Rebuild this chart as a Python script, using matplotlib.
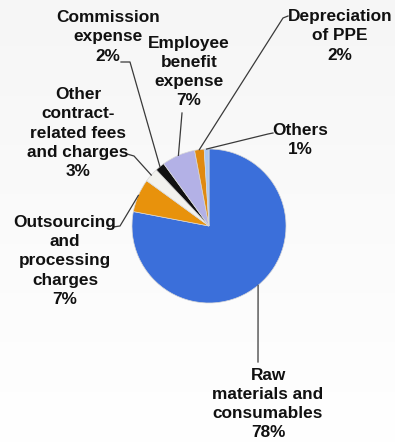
import numpy as np
import matplotlib
matplotlib.use("Agg")
import matplotlib.pyplot as plt

# Cost breakdown shares (clockwise from 12 o'clock)
categories = [
    "Raw\nmaterials and\nconsumables",
    "Outsourcing\nand\nprocessing\ncharges",
    "Other\ncontract-\nrelated fees\nand charges",
    "Commission\nexpense",
    "Employee\nbenefit\nexpense",
    "Depreciation\nof PPE",
    "Others",
]
shares = [78, 7, 3, 2, 7, 2, 1]
colors = ["#3B6FDA", "#E8920C", "#F2F2EE", "#111111", "#B3B1E6", "#E08A10", "#A9C6F2"]

W, H = 395, 442
fig = plt.figure(figsize=(W / 100, H / 100), dpi=100)
ax = fig.add_axes([0, 0, 1, 1])

# soft background wash
grad = np.linspace(1.0, 0.965, 256).reshape(-1, 1)
ax.imshow(np.dstack([grad, grad, grad]), extent=(0, W, H, 0), aspect="auto",
          zorder=0, interpolation="bicubic")

cx, cy, r = 209, H - 226, 77
wedges, _ = ax.pie(shares, colors=colors, startangle=90, counterclock=False,
                   center=(cx, cy), radius=r, frame=True,
                   wedgeprops=dict(linewidth=0.5, edgecolor="#d8d8d8"))
ax.set_xlim(0, W)
ax.set_ylim(0, H)
ax.set_aspect("equal")
ax.axis("off")

font = dict(family=["Liberation Sans", "DejaVu Sans"], fontweight="bold",
            fontsize=12.4, color="#111111", ha="center", va="center",
            linespacing=1.34)

# label centre (x, y from top) and leader path start points (from top)
label_pos = [
    (268, 404), (65, 261), (78, 133), (108, 37), (189, 72), (340, 36), (300, 140),
]
leader_start = [
    [(258, 362)],
    [(113, 227), (120, 226)],
    [(127, 154), (134, 156)],
    [(121, 62), (130, 62)],
    [(182, 113)],
    [(288, 16), (283, 18)],
    [(273, 133), (268, 134)],
]

for w, name, val, (lx, ly), pts in zip(wedges, categories, shares, label_pos, leader_start):
    mid = np.deg2rad((w.theta1 + w.theta2) / 2)
    rim = (cx + r * np.cos(mid), cy + r * np.sin(mid))
    xs = [p[0] for p in pts] + [rim[0]]
    ys = [H - p[1] for p in pts] + [rim[1]]
    ax.plot(xs, ys, color="#3a3a3a", lw=0.9, zorder=3)
    ax.text(lx, H - ly, f"{name}\n{val}%", zorder=4, **font)

fig.savefig("out.png", dpi=100)
